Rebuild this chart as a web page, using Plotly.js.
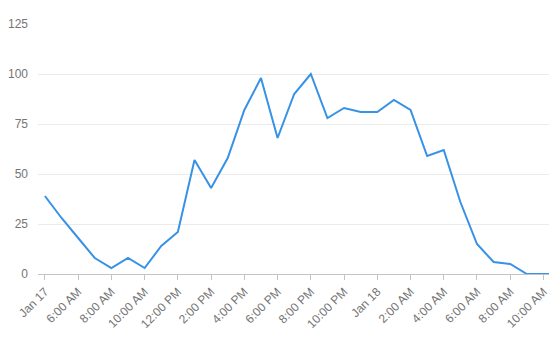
<!DOCTYPE html>
<html><head><meta charset="utf-8">
<script src="https://cdn.plot.ly/plotly-3.0.1.min.js"></script>
<style>html,body{margin:0;padding:0;background:#fff}#c{width:558px;height:342px}</style>
</head><body><div id="c"></div>
<script>
const times = [
 "2018-01-17 04:00","2018-01-17 05:00","2018-01-17 06:00","2018-01-17 07:00","2018-01-17 08:00",
 "2018-01-17 09:00","2018-01-17 10:00","2018-01-17 11:00","2018-01-17 12:00","2018-01-17 13:00",
 "2018-01-17 14:00","2018-01-17 15:00","2018-01-17 16:00","2018-01-17 17:00","2018-01-17 18:00",
 "2018-01-17 19:00","2018-01-17 20:00","2018-01-17 21:00","2018-01-17 22:00","2018-01-17 23:00",
 "2018-01-18 00:00","2018-01-18 01:00","2018-01-18 02:00","2018-01-18 03:00","2018-01-18 04:00",
 "2018-01-18 05:00","2018-01-18 06:00","2018-01-18 07:00","2018-01-18 08:00","2018-01-18 09:00",
 "2018-01-18 10:00","2018-01-18 10:20"];
const values = [39,28,18,8,3,8,3,14,21,57,43,58,82,98,68,90,100,78,83,81,81,87,82,59,62,36,15,6,5,0,0,0];
const tickVals = ["2018-01-17 04:00","2018-01-17 06:00","2018-01-17 08:00","2018-01-17 10:00","2018-01-17 12:00",
 "2018-01-17 14:00","2018-01-17 16:00","2018-01-17 18:00","2018-01-17 20:00","2018-01-17 22:00",
 "2018-01-18 00:00","2018-01-18 02:00","2018-01-18 04:00","2018-01-18 06:00","2018-01-18 08:00","2018-01-18 10:00"];
const tickText = ["Jan 17","6:00 AM","8:00 AM","10:00 AM","12:00 PM","2:00 PM","4:00 PM","6:00 PM","8:00 PM",
 "10:00 PM","Jan 18","2:00 AM","4:00 AM","6:00 AM","8:00 AM","10:00 AM"];
const yTicks = [0,25,50,75,100,125];

Plotly.newPlot('c', [{
  x: times, y: values, type: 'scatter', mode: 'lines',
  line: {color: '#3792e6', width: 2}, hoverinfo: 'none'
}], {
  width: 558, height: 342,
  margin: {l: 38, r: 9, t: 24, b: 68},
  paper_bgcolor: '#fff', plot_bgcolor: '#fff',
  showlegend: false,
  font: {family: 'Liberation Sans, Arial, sans-serif', size: 12, color: '#757575'},
  xaxis: {
    type: 'date', range: ["2018-01-17 03:35", "2018-01-18 10:20"],
    tickmode: 'array', tickvals: tickVals, ticktext: tickText, tickangle: -45,
    showgrid: false, showline: true, linecolor: '#c4c4c4', linewidth: 1,
    ticks: 'outside', ticklen: 5, tickcolor: '#c4c4c4',
    tickfont: {family: 'Liberation Sans, Arial, sans-serif', size: 12, color: '#757575'},
    zeroline: false, fixedrange: true
  },
  yaxis: {
    range: [0, 125], tickmode: 'array', tickvals: yTicks,
    showgrid: true, gridcolor: '#ebebeb', zeroline: false, showline: false,
    ticks: '', ticklabelstandoff: 9,
    tickfont: {family: 'Liberation Sans, Arial, sans-serif', size: 12, color: '#757575'},
    fixedrange: true
  }
}, {displayModeBar: false, staticPlot: true});
</script></body></html>
